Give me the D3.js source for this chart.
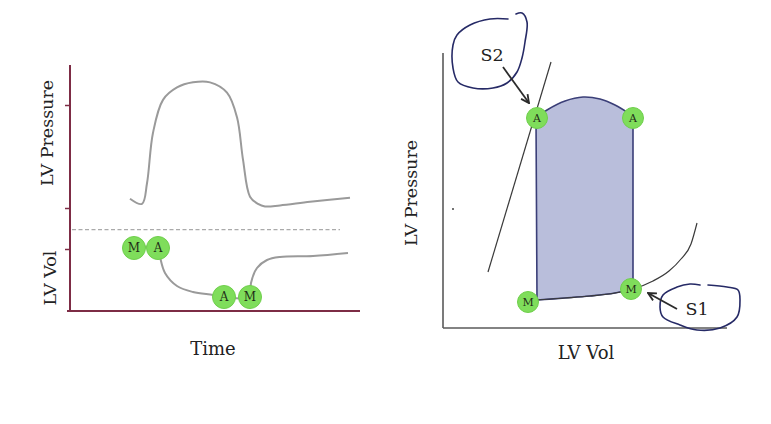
<!DOCTYPE html>
<html lang="en">
<head>
  <meta charset="UTF-8" />
  <script src="https://d3js.org/d3.v7.min.js"></script>
  <title>LV pressure / volume</title>
  <style>
    body { margin: 0; background: #fff; }
    svg text { font-family: "DejaVu Serif", "Liberation Serif", serif; fill: #222; }
    .curve { fill: none; stroke: #9a9a9a; stroke-width: 2; }
    .valve circle { fill: #7fdd5b; stroke: #6fcf4c; stroke-width: 1; }
    .valve text { font-size: 11px; fill: #1f2d18; }
  </style>
</head>
<body>
<script>
// ---- left panel: pressure & volume vs time ----
var pressTime = [6.0, 7.2, 7.7, 8.3, 9.3, 10.7, 12.3, 14.0, 15.7, 16.7, 17.3, 18.0, 18.8, 19.5, 21.0, 24.0, 28.0];
var pressVal  = [9, 4, 24, 73, 105, 117, 122, 122, 112, 88, 47, 11, 4, 1.5, 2.5, 6, 10];

var volTime = [6.4, 8.8, 9.0, 9.5, 10.7, 12.3, 14.3, 15.4, 18.0, 18.1, 18.7, 19.7, 21.0, 24.3, 27.8];
var volVal  = [126, 126, 108, 76, 50, 38, 32, 28, 28, 56, 86, 102, 108, 110, 116];

var valveLabels = ["M", "A", "A", "M"];
var valveTime   = [6.4, 8.8, 15.4, 18.0];
var valveVol    = [126, 126, 28, 28];

var pressTicks = [0, 100];
var volTicks = [124];
var dividerPressure = -21;

// ---- right panel: pressure-volume loop ----
var loopTopVol    = [46.5, 52, 61, 70, 78.5, 86, 95];
var loopTopPress  = [105, 109, 113.5, 115.5, 114.5, 111.5, 106];
var loopBotVol    = [95, 86, 73.5, 61, 47];
var loopBotPress  = [19.5, 17.5, 16, 15, 14];

var espvrVol   = [22.5, 54];
var espvrPress = [28, 133];

var edpvrVol   = [47, 61, 73.5, 86, 95, 105, 113, 119, 124, 127];
var edpvrPress = [14, 15, 16, 17.5, 19.5, 23.5, 28.5, 34.5, 42, 52.5];

var pvLabels = ["A", "A", "M", "M"];
var pvVol    = [47, 95, 94, 42.5];
var pvPress  = [105, 105, 19.5, 13];

var s2LoopVol   = [32.5, 23.5, 13.5, 7, 5, 5, 7.5, 15, 25, 32, 37, 39.5, 41, 42, 39.5, 36.5];
var s2LoopPress = [154.5, 154.5, 151.5, 146.5, 141.5, 130, 123, 120, 120, 122.5, 128, 135, 143, 153, 157.5, 157];
var s1LoopVol   = [132.5, 142, 147.5, 148.5, 147, 138.5, 127, 118.5, 110, 108.5, 110, 117, 123.5, 128.5];
var s1LoopPress = [21.5, 20.5, 19, 14, 5.5, 0, -1, 1.5, 5.5, 10.5, 16.5, 20.5, 22, 21.5];

var s2Arrow = { vol: [30, 43], press: [130.5, 112.5] };
var s1Arrow = { vol: [117, 102.5], press: [9.5, 17.5] };

var W = 771, H = 424;
var svg = d3.select("body").append("svg").attr("width", W).attr("height", H);

var defs = svg.append("defs");
defs.append("marker").attr("id", "arr").attr("viewBox", "0 0 10 10")
  .attr("refX", 9).attr("refY", 5).attr("markerWidth", 10).attr("markerHeight", 10)
  .attr("markerUnits", "userSpaceOnUse").attr("orient", "auto")
  .append("path").attr("d", "M1,1 L9,5 L1,9").attr("fill", "none")
  .attr("stroke", "#2b2b2b").attr("stroke-width", 1.8);

// left scales
var xT = d3.scaleLinear().domain([0, 29]).range([70, 360]);
var yP = d3.scaleLinear().domain([0, 100]).range([208, 105]);
var yV = d3.scaleLinear().domain([0, 124]).range([311, 249]);

var left = svg.append("g");
var maroon = "#7d2c45";

left.append("line").attr("x1", 70).attr("x2", 70).attr("y1", 65).attr("y2", 311)
  .attr("stroke", maroon).attr("stroke-width", 2);
left.append("line").attr("x1", 67).attr("x2", xT(29)).attr("y1", 311).attr("y2", 311)
  .attr("stroke", maroon).attr("stroke-width", 2);

var pAxis = left.append("g").attr("transform", "translate(70,0)")
  .call(d3.axisLeft(yP).tickValues(pressTicks).tickSize(5).tickFormat(""));
var vAxis = left.append("g").attr("transform", "translate(70,0)")
  .call(d3.axisLeft(yV).tickValues(volTicks).tickSize(5).tickFormat(""));
[pAxis, vAxis].forEach(function (a) {
  a.select(".domain").remove();
  a.selectAll(".tick line").attr("stroke", maroon).attr("stroke-width", 1.5);
});

left.append("line").attr("x1", 72).attr("x2", xT(27)).attr("y1", yP(dividerPressure)).attr("y2", yP(dividerPressure))
  .attr("stroke", "#aaa").attr("stroke-width", 1.3).attr("stroke-dasharray", "4,2.5");

var pressLine = d3.line().x(function (d, i) { return xT(pressTime[i]); })
  .y(function (d) { return yP(d); }).curve(d3.curveCatmullRom.alpha(0.5));
left.append("path").attr("class", "curve").attr("d", pressLine(pressVal));

var volLine = d3.line().x(function (d, i) { return xT(volTime[i]); })
  .y(function (d) { return yV(d); }).curve(d3.curveCatmullRom.alpha(0.5));
left.append("path").attr("class", "curve").attr("d", volLine(volVal));

var lv = left.selectAll(".valve").data(valveLabels).enter().append("g").attr("class", "valve")
  .attr("transform", function (d, i) { return "translate(" + xT(valveTime[i]) + "," + yV(valveVol[i]) + ")"; });
lv.append("circle").attr("r", 11.5);
lv.append("text").attr("text-anchor", "middle").attr("dy", "0.36em").style("font-size", "12px").text(function (d) { return d; });

left.append("text").attr("transform", "translate(47,133) rotate(-90)").attr("text-anchor", "middle")
  .attr("dy", "0.35em").style("font-size", "17.5px").text("LV Pressure");
left.append("text").attr("transform", "translate(50,278) rotate(-90)").attr("text-anchor", "middle")
  .attr("dy", "0.35em").style("font-size", "17.5px").text("LV Vol");
left.append("text").attr("x", 213).attr("y", 355).attr("text-anchor", "middle")
  .style("font-size", "18px").text("Time");

// right scales
var xR = d3.scaleLinear().domain([0, 142]).range([443, 727]);
var yR = d3.scaleLinear().domain([0, 137.5]).range([328, 53]);
var right = svg.append("g");

right.append("line").attr("x1", xR(0)).attr("x2", xR(0)).attr("y1", yR(137.5)).attr("y2", yR(0))
  .attr("stroke", "#5a5a5a").attr("stroke-width", 1.6);
right.append("line").attr("x1", xR(0)).attr("x2", xR(142)).attr("y1", yR(0)).attr("y2", yR(0))
  .attr("stroke", "#5a5a5a").attr("stroke-width", 1.6);

var pvCurve = d3.line().x(function (d) { return xR(d[0]); }).y(function (d) { return yR(d[1]); })
  .curve(d3.curveCatmullRom.alpha(0.5));
var pvMono = d3.line().x(function (d) { return xR(d[0]); }).y(function (d) { return yR(d[1]); })
  .curve(d3.curveMonotoneX);
var zip = function (a, b) { return a.map(function (v, i) { return [v, b[i]]; }); };

var loopD = pvCurve(zip(loopTopVol, loopTopPress)) + "L" +
  pvCurve(zip(loopBotVol, loopBotPress)).slice(1) + "Z";
right.append("path").attr("d", loopD).attr("fill", "#b9bedb").attr("stroke", "#3b3f78").attr("stroke-width", 1.6);

right.append("path").attr("d", pvMono(zip(espvrVol, espvrPress)))
  .attr("fill", "none").attr("stroke", "#3a3a3a").attr("stroke-width", 1.2);
right.append("path").attr("d", pvMono(zip(edpvrVol, edpvrPress)))
  .attr("fill", "none").attr("stroke", "#3a3a3a").attr("stroke-width", 1.2);

right.append("circle").attr("cx", xR(5)).attr("cy", yR(59.5)).attr("r", 1).attr("fill", "#444");

var rv = right.selectAll(".valve").data(pvLabels).enter().append("g").attr("class", "valve")
  .attr("transform", function (d, i) { return "translate(" + xR(pvVol[i]) + "," + yR(pvPress[i]) + ")"; });
rv.append("circle").attr("r", 10.5);
rv.append("text").attr("text-anchor", "middle").attr("dy", "0.36em").text(function (d) { return d; });

right.append("text").attr("transform", "translate(411,193) rotate(-90)").attr("text-anchor", "middle")
  .attr("dy", "0.35em").style("font-size", "17.5px").text("LV Pressure");
right.append("text").attr("x", 586).attr("y", 359).attr("text-anchor", "middle")
  .style("font-size", "18px").text("LV Vol");

// hand-drawn annotations
var hand = d3.line().x(function (d) { return xR(d[0]); }).y(function (d) { return yR(d[1]); })
  .curve(d3.curveCatmullRom.alpha(0.5));
[zip(s2LoopVol, s2LoopPress), zip(s1LoopVol, s1LoopPress)].forEach(function (pts) {
  right.append("path").attr("d", hand(pts)).attr("fill", "none")
    .attr("stroke", "#262a66").attr("stroke-width", 1.6).attr("stroke-linecap", "round");
});
[s2Arrow, s1Arrow].forEach(function (a) {
  right.append("line").attr("x1", xR(a.vol[0])).attr("y1", yR(a.press[0]))
    .attr("x2", xR(a.vol[1])).attr("y2", yR(a.press[1]))
    .attr("stroke", "#2b2b2b").attr("stroke-width", 1.8).attr("marker-end", "url(#arr)");
});
right.append("text").attr("x", xR(24.5)).attr("y", yR(136.5)).attr("text-anchor", "middle")
  .attr("dy", "0.35em").style("font-size", "17.5px").text("S2");
right.append("text").attr("x", xR(127)).attr("y", yR(9.5)).attr("text-anchor", "middle")
  .attr("dy", "0.35em").style("font-size", "17.5px").text("S1");
</script>
</body>
</html>
